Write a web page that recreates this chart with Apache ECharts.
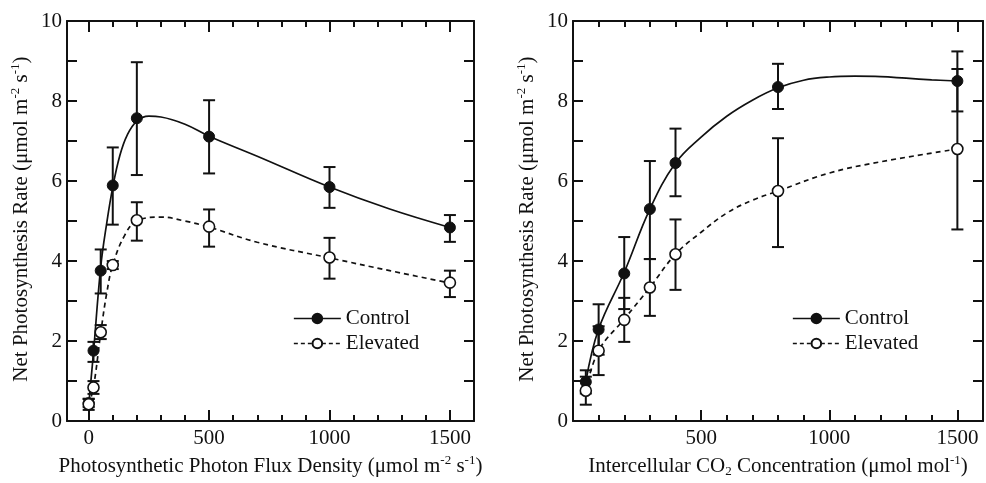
<!DOCTYPE html>
<html>
<head>
<meta charset="utf-8">
<script src="https://cdn.jsdelivr.net/npm/echarts@6.0.0/dist/echarts.min.js"></script>
<style>
  html, body { margin: 0; padding: 0; background: #fff; }
  #chart { width: 986px; height: 483px; }
</style>
</head>
<body>
<div id="chart"></div>
<script>
// Light response (PPFD) panel
const ppfdLevels = [0, 20, 50, 100, 200, 500, 1000, 1500];
const ppfdControl = [0.45, 1.76, 3.76, 5.89, 7.57, 7.11, 5.85, 4.84];
const ppfdControlLow = [0.35, 1.48, 3.19, 4.91, 6.15, 6.19, 5.33, 4.48];
const ppfdControlHigh = [0.55, 1.98, 4.29, 6.84, 8.97, 8.02, 6.35, 5.15];
const ppfdElevated = [0.42, 0.84, 2.22, 3.9, 5.02, 4.86, 4.09, 3.46];
const ppfdElevatedLow = [0.28, 0.68, 2.05, 3.8, 4.51, 4.36, 3.56, 3.1];
const ppfdElevatedHigh = [0.56, 1.0, 2.4, 4.0, 5.47, 5.29, 4.58, 3.76];

// fitted curves
const ppfdControlFitX = [0, 20, 50, 75, 100, 130, 160, 200, 250, 300, 400, 500, 700, 1000, 1250, 1500];
const ppfdControlFitY = [0.4, 1.72, 3.85, 4.95, 5.85, 6.65, 7.15, 7.5, 7.62, 7.6, 7.42, 7.12, 6.62, 5.85, 5.3, 4.84];
const ppfdElevatedFitX = [0, 20, 50, 75, 100, 150, 200, 300, 400, 500, 700, 1000, 1250, 1500];
const ppfdElevatedFitY = [0.4, 0.85, 2.2, 3.2, 3.9, 4.65, 5.0, 5.1, 5.0, 4.85, 4.47, 4.08, 3.76, 3.45];

// CO2 response (Ci) panel
const ciLevels = [50, 100, 200, 300, 400, 800, 1500];
const ciControl = [0.98, 2.29, 3.69, 5.3, 6.45, 8.35, 8.5];
const ciControlLow = [0.69, 1.66, 2.8, 4.05, 5.62, 7.8, 7.74];
const ciControlHigh = [1.27, 2.92, 4.6, 6.5, 7.31, 8.93, 9.24];
const ciElevated = [0.76, 1.76, 2.53, 3.34, 4.17, 5.75, 6.8];
const ciElevatedLow = [0.41, 1.15, 1.98, 2.63, 3.28, 4.35, 4.79];
const ciElevatedHigh = [1.11, 2.37, 3.08, 4.05, 5.04, 7.07, 8.8];

const ciControlFitX = [50, 100, 200, 300, 400, 500, 600, 700, 800, 900, 1000, 1100, 1200, 1300, 1400, 1500];
const ciControlFitY = [0.98, 2.3, 3.72, 5.3, 6.45, 7.1, 7.62, 8.02, 8.33, 8.52, 8.6, 8.62, 8.61, 8.57, 8.53, 8.5];
const ciElevatedFitX = [50, 100, 200, 300, 400, 500, 600, 700, 800, 1000, 1200, 1500];
const ciElevatedFitY = [0.76, 1.76, 2.55, 3.34, 4.17, 4.72, 5.2, 5.52, 5.75, 6.2, 6.48, 6.8];

// axis ticks
const ppfdMajorTicks = [0, 500, 1000, 1500];
const ppfdMinorTicks = [100, 200, 300, 400, 600, 700, 800, 900, 1100, 1200, 1300, 1400];
const ppfdTickLabels = [0, 500, 1000, 1500];
const ciMajorTicks = [500, 1000, 1500];
const ciMinorTicks = [100, 200, 300, 400, 600, 700, 800, 900, 1100, 1200, 1300, 1400];
const ciTickLabels = [500, 1000, 1500];
const yTickLabels = [0, 2, 4, 6, 8, 10];

const INK = "#111";
const FONT = "Liberation Serif";
const FS = 21;

const nameRich = {
  sup: { fontSize: 13, lineHeight: 13, verticalAlign: "top", fontFamily: FONT, color: INK },
  sub: { fontSize: 13, lineHeight: 13, verticalAlign: "bottom", fontFamily: FONT, color: INK },
};

const zip = (xs, ys) => xs.map((x, i) => [x, ys[i]]);
const zip3 = (xs, lo, hi) => xs.map((x, i) => [x, lo[i], hi[i]]);

function xAxesFor(grid, min, max, major, minor, labels, name) {
  const base = { gridIndex: grid, type: "value", min, max, splitLine: { show: false } };
  const line = { show: true, onZero: false, lineStyle: { color: INK, width: 2 } };
  const tick = (vals, len) => ({
    show: true, inside: true, length: len, customValues: vals,
    lineStyle: { color: INK, width: 2 },
  });
  return [
    {
      ...base, position: "bottom", axisLine: line, axisTick: tick(major, 11),
      axisLabel: {
        customValues: labels, margin: 7, fontSize: FS, color: INK, fontFamily: FONT,
        formatter: (v) => String(v),
      },
      name, nameLocation: "middle", nameGap: 32,
      nameTextStyle: { fontSize: FS, lineHeight: 24, color: INK, fontFamily: FONT, rich: nameRich },
    },
    { ...base, position: "bottom", axisLine: { show: false, onZero: false }, axisTick: tick(minor, 6), axisLabel: { show: false } },
    { ...base, position: "top", axisLine: line, axisTick: tick(major, 11), axisLabel: { show: false } },
    { ...base, position: "top", axisLine: { show: false, onZero: false }, axisTick: tick(minor, 6), axisLabel: { show: false } },
  ];
}

function yAxesFor(grid, name) {
  const base = {
    gridIndex: grid, type: "value", min: 0, max: 10, interval: 1,
    splitLine: { show: false },
    axisLine: { show: true, onZero: false, lineStyle: { color: INK, width: 2 } },
    axisTick: { show: true, inside: true, length: 10, lineStyle: { color: INK, width: 2 } },
  };
  return [
    {
      ...base, position: "left",
      axisLabel: { customValues: yTickLabels, margin: 5, fontSize: FS, color: INK, fontFamily: FONT },
      name, nameLocation: "middle", nameGap: 34, nameRotate: 90,
      nameTextStyle: { fontSize: FS, lineHeight: 24, color: INK, fontFamily: FONT, rich: nameRich, padding: [0, 0, 0, 4] },
    },
    { ...base, position: "right", axisLabel: { show: false } },
  ];
}

function errorBar(params, api) {
  const x = api.value(0);
  const lo = api.coord([x, api.value(1)]);
  const hi = api.coord([x, api.value(2)]);
  const w = 6;
  const style = { stroke: INK, lineWidth: 2 };
  return {
    type: "group",
    children: [
      { type: "line", shape: { x1: lo[0], y1: lo[1], x2: hi[0], y2: hi[1] }, style },
      { type: "line", shape: { x1: hi[0] - w, y1: hi[1], x2: hi[0] + w, y2: hi[1] }, style },
      { type: "line", shape: { x1: lo[0] - w, y1: lo[1], x2: lo[0] + w, y2: lo[1] }, style },
    ],
  };
}

function seriesFor(xi, yi, d) {
  const common = { xAxisIndex: xi, yAxisIndex: yi, silent: true };
  return [
    {
      ...common, type: "line", name: "Control fit", data: zip(d.cfx, d.cfy),
      smooth: 0.4, symbol: "none", z: 2,
      lineStyle: { color: INK, width: 1.7 },
    },
    {
      ...common, type: "line", name: "Elevated fit", data: zip(d.efx, d.efy),
      smooth: 0.4, symbol: "none", z: 2,
      lineStyle: { color: INK, width: 1.7, type: [5, 4] },
    },
    { ...common, type: "custom", name: "Control err", renderItem: errorBar, encode: { x: 0, y: [1, 2] }, data: zip3(d.x, d.clo, d.chi), z: 3 },
    { ...common, type: "custom", name: "Elevated err", renderItem: errorBar, encode: { x: 0, y: [1, 2] }, data: zip3(d.x, d.elo, d.ehi), z: 3 },
    {
      ...common, type: "line", name: "Control", data: zip(d.x, d.c),
      symbol: "circle", symbolSize: 11, z: 4,
      lineStyle: { width: 0, opacity: 0 },
      itemStyle: { color: INK, borderColor: INK, borderWidth: 1 },
    },
    {
      ...common, type: "line", name: "Elevated", data: zip(d.x, d.e),
      symbol: "circle", symbolSize: 11, z: 5,
      lineStyle: { width: 0, opacity: 0 },
      itemStyle: { color: "#fff", borderColor: INK, borderWidth: 1.6 },
    },
  ];
}

function legendAt(left) {
  return {
    orient: "vertical", left, top: 308, padding: 0,
    itemWidth: 47, itemHeight: 12, itemGap: 4,
    selectedMode: false,
    textStyle: { fontSize: FS, color: INK, fontFamily: FONT },
    data: [
      { name: "Control", lineStyle: { color: INK, width: 1.7, type: "solid", opacity: 1 } },
      { name: "Elevated", lineStyle: { color: INK, width: 1.7, type: [4, 3], opacity: 1 } },
    ],
  };
}

const yName = "Net Photosynthesis Rate (μmol m{sup|-2} s{sup|-1})";

const option = {
  animation: false,
  backgroundColor: "#fff",
  textStyle: { fontFamily: FONT },
  grid: [
    { left: 67, right: 512, top: 21, bottom: 52 },
    { left: 573, right: 3, top: 21, bottom: 52 },
  ],
  xAxis: [
    ...xAxesFor(0, -90, 1600, ppfdMajorTicks, ppfdMinorTicks, ppfdTickLabels,
      "Photosynthetic Photon Flux Density (μmol m{sup|-2} s{sup|-1})"),
    ...xAxesFor(1, 0, 1600, ciMajorTicks, ciMinorTicks, ciTickLabels,
      "Intercellular CO{sub|2} Concentration (μmol mol{sup|-1})"),
  ],
  yAxis: [...yAxesFor(0, yName), ...yAxesFor(1, yName)],
  legend: [legendAt(293), legendAt(792)],
  series: [
    ...seriesFor(0, 0, {
      x: ppfdLevels, c: ppfdControl, e: ppfdElevated,
      clo: ppfdControlLow, chi: ppfdControlHigh, elo: ppfdElevatedLow, ehi: ppfdElevatedHigh,
      cfx: ppfdControlFitX, cfy: ppfdControlFitY, efx: ppfdElevatedFitX, efy: ppfdElevatedFitY,
    }),
    ...seriesFor(4, 2, {
      x: ciLevels, c: ciControl, e: ciElevated,
      clo: ciControlLow, chi: ciControlHigh, elo: ciElevatedLow, ehi: ciElevatedHigh,
      cfx: ciControlFitX, cfy: ciControlFitY, efx: ciElevatedFitX, efy: ciElevatedFitY,
    }),
  ],
};

const chart = echarts.init(document.getElementById("chart"), null, { renderer: "canvas" });
chart.setOption(option);
</script>
</body>
</html>
